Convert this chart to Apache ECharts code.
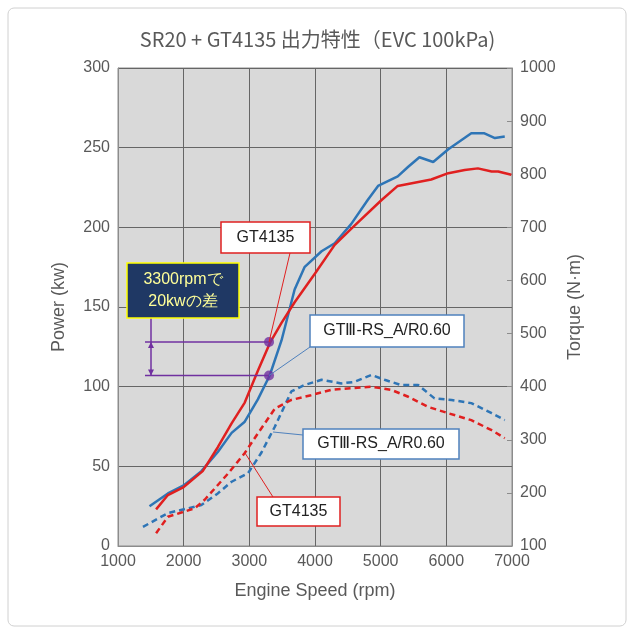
<!DOCTYPE html>
<html><head><meta charset="utf-8">
<script src="https://cdn.jsdelivr.net/npm/echarts@6/dist/echarts.min.js"></script>
<style>html,body{margin:0;padding:0;background:#fff}</style>
</head><body>
<div id="chart" style="width:635px;height:635px"></div>
<script>
var chart = echarts.init(document.getElementById('chart'));

// solid = power (kW, left axis), dashed = torque (N·m, right axis)
var rpmBluePower = [1480,1760,2000,2270,2520,2730,2930,3130,3310,3490,3690,3840,4100,4300,4550,4800,4960,5260,5420,5590,5800,6030,6380,6580,6740,6890];
var bluePower = [25,33,38,47,59,71,78,92,107,129,161,175,185,190,202,217,226,232,238,244,241,249,259,259,256,257];
var rpmRedPower = [1580,1760,2000,2290,2520,2730,2930,3130,3320,3490,3690,4000,4300,4550,5010,5260,5770,6030,6280,6480,6690,6790,6990];
var redPower = [23,32,37,47,62,77,90,110,128,140,153,171,189,199,217,226,230,234,236,237,235,235,233];
var rpmBlueTorque = [1380,1760,2270,2520,2730,2980,3180,3390,3640,3840,4100,4400,4600,4860,5060,5310,5570,5820,6080,6380,6690,6890];
var blueTorque = [136,162,177,199,221,237,275,325,391,403,413,406,409,422,413,403,403,378,375,369,350,337];
var rpmRedTorque = [1580,1760,2170,2320,2680,2930,3130,3390,3640,3940,4250,4550,4860,5160,5420,5720,6030,6380,6690,6890];
var redTorque = [124,155,171,187,237,275,312,359,375,384,394,397,400,394,381,362,350,337,318,303];

var markRpm = 3300;
var markPower = [128, 107];

function pairs(xs, ys) { return xs.map(function (x, i) { return [x, ys[i]]; }); }
function plain(v) { return String(v); }

var textColor = '#595959';
var blue = '#2e75b6', red = '#e02020', purple = '#7030a0';

var option = {
  animation: false,
  title: {
    text: 'SR20 + GT4135 出力特性（EVC 100kPa)',
    left: 'center', top: 24,
    textStyle: { fontSize: 20, fontWeight: 'normal', color: textColor, fontFamily: 'Noto Sans CJK JP' }
  },
  grid: { left: 118, right: 123, top: 68, bottom: 89, show: true, backgroundColor: '#d9d9d9', borderColor: '#8c8c8c' },
  xAxis: {
    type: 'value', min: 1000, max: 7000, interval: 1000,
    name: 'Engine Speed (rpm)', nameLocation: 'middle', nameGap: 36,
    nameTextStyle: { fontSize: 18, color: textColor },
    axisLabel: { fontSize: 16, color: textColor, formatter: plain },
    axisLine: { lineStyle: { color: '#8c8c8c' } },
    axisTick: { show: false },
    splitLine: { lineStyle: { color: '#666', width: 1 } }
  },
  yAxis: [{
    type: 'value', min: 0, max: 300, interval: 50,
    name: 'Power (kw)', nameLocation: 'middle', nameGap: 50,
    nameTextStyle: { fontSize: 18, color: textColor },
    axisLabel: { fontSize: 16, color: textColor },
    axisLine: { show: true, lineStyle: { color: '#8c8c8c' } },
    axisTick: { show: false },
    splitLine: { lineStyle: { color: '#666', width: 1 } }
  }, {
    type: 'value', min: 100, max: 1000, interval: 100,
    name: 'Torque (N·m)', nameLocation: 'middle', nameGap: 52,
    nameTextStyle: { fontSize: 18, color: textColor },
    axisLabel: { fontSize: 16, color: textColor, formatter: plain },
    axisLine: { show: true, lineStyle: { color: '#8c8c8c' } },
    axisTick: { show: true, inside: true, length: 5, lineStyle: { color: '#8c8c8c' } },
    splitLine: { show: false }
  }],
  series: [
    { type: 'line', data: pairs(rpmBluePower, bluePower), showSymbol: false, lineStyle: { color: blue, width: 2.5 } },
    { type: 'line', data: pairs(rpmRedPower, redPower), showSymbol: false, lineStyle: { color: red, width: 2.5 } },
    { type: 'line', yAxisIndex: 1, data: pairs(rpmBlueTorque, blueTorque), showSymbol: false, lineStyle: { color: blue, width: 2.5, type: [6, 4] } },
    { type: 'line', yAxisIndex: 1, data: pairs(rpmRedTorque, redTorque), showSymbol: false, lineStyle: { color: red, width: 2.5, type: [6, 4] } },
    { type: 'scatter', data: markPower.map(function (v) { return [markRpm, v]; }), symbolSize: 10, itemStyle: { color: purple }, z: 10 }
  ]
};
chart.setOption(option);

function px(x, y) {
  return chart.convertToPixel({ xAxisIndex: 0, yAxisIndex: 0 }, [x, y]);
}
function box(x, y, w, h, text, stroke, fill, color) {
  return {
    type: 'rect', shape: { x: x, y: y, width: w, height: h }, z: 20,
    style: { fill: fill || '#fff', stroke: stroke, lineWidth: 1.5 },
    textContent: { style: { text: text, fill: color || '#222', fontSize: 16, lineHeight: 22 }, z: 21 },
    textConfig: { position: 'inside' }
  };
}
function line(a, b, color, w) {
  return { type: 'line', shape: { x1: a[0], y1: a[1], x2: b[0], y2: b[1] }, z: 15, style: { stroke: color, lineWidth: w || 1 } };
}
var pHi = px(markRpm, markPower[0]), pLo = px(markRpm, markPower[1]);
var arrowX = 151;
var g = [
  { type: 'rect', shape: { x: 8, y: 8, width: 618, height: 618, r: 6 }, style: { fill: 'none', stroke: '#d0d0d0', lineWidth: 1 }, z: -1 },
  line([145, pHi[1]], pHi, purple, 1.5),
  line([145, pLo[1]], pLo, purple, 1.5),
  line([arrowX, 318], [arrowX, pLo[1]], purple, 1.5),
  { type: 'polygon', shape: { points: [[arrowX, pHi[1]], [arrowX - 3, pHi[1] + 6], [arrowX + 3, pHi[1] + 6]] }, style: { fill: purple }, z: 16 },
  { type: 'polygon', shape: { points: [[arrowX, pLo[1]], [arrowX - 3, pLo[1] - 6], [arrowX + 3, pLo[1] - 6]] }, style: { fill: purple }, z: 16 },
  line([290, 253], pHi, red, 1),
  line([310, 347], pLo, '#4f81bd', 1),
  line([303, 435], [273, 432], '#4f81bd', 1),
  line([273, 497], [245, 453], red, 1),
  box(221, 222, 89, 31, 'GT4135', red),
  box(127, 263, 112, 55, '3300rpmで\n20kwの差', '#ffff00', '#1f3864', '#ffff99'),
  box(310, 315, 154, 32, 'GTⅢ-RS_A/R0.60', '#4f81bd'),
  box(303, 429, 156, 30, 'GTⅢ-RS_A/R0.60', '#4f81bd'),
  box(257, 497, 83, 29, 'GT4135', red)
];
chart.setOption({ graphic: g });
</script>
</body></html>
